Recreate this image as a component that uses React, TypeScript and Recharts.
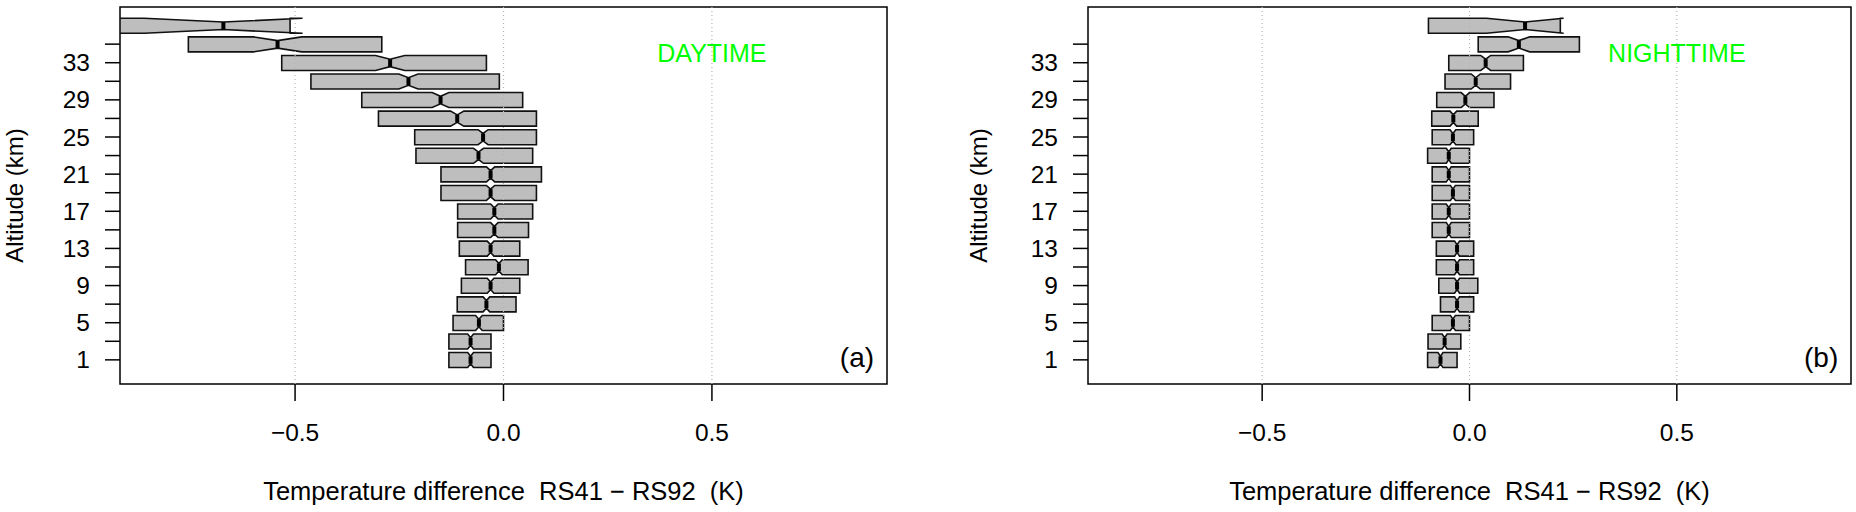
import { ComposedChart, Bar, XAxis, YAxis, ReferenceLine, ReferenceArea, ReferenceDot } from "recharts"

// altitude levels (km), bottom to top
const altitudes = [1, 3, 5, 7, 9, 11, 13, 15, 17, 19, 21, 23, 25, 27, 29, 31, 33, 35, 37]
const yTicks = [1, 3, 5, 7, 9, 11, 13, 15, 17, 19, 21, 23, 25, 27, 29, 31, 33, 35]
const yLabels = [1, 5, 9, 13, 17, 21, 25, 29, 33]
const xTicks = [-0.5, 0, 0.5]

// daytime RS41 - RS92 (K)
const dayQ1 = [-0.131, -0.131, -0.121, -0.111, -0.101, -0.091, -0.106, -0.11, -0.11, -0.15, -0.15, -0.21, -0.213, -0.3, -0.34, -0.462, -0.532, -0.756, -0.92]
const dayMedian = [-0.079, -0.079, -0.059, -0.041, -0.031, -0.011, -0.031, -0.022, -0.022, -0.031, -0.031, -0.06, -0.049, -0.111, -0.151, -0.228, -0.272, -0.542, -0.672]
const dayQ3 = [-0.03, -0.03, 0.0, 0.03, 0.039, 0.059, 0.039, 0.06, 0.07, 0.079, 0.091, 0.07, 0.079, 0.079, 0.046, -0.01, -0.041, -0.292, -0.512]
const dayNotch = [0.007, 0.007, 0.008, 0.008, 0.008, 0.008, 0.008, 0.009, 0.009, 0.01, 0.01, 0.012, 0.012, 0.016, 0.02, 0.023, 0.035, 0.058, 0.19]

// nighttime RS41 - RS92 (K)
const nightQ1 = [-0.101, -0.1, -0.09, -0.07, -0.074, -0.08, -0.08, -0.09, -0.09, -0.09, -0.09, -0.101, -0.09, -0.091, -0.079, -0.059, -0.05, 0.021, -0.099]
const nightMedian = [-0.07, -0.06, -0.04, -0.03, -0.03, -0.03, -0.03, -0.05, -0.05, -0.04, -0.05, -0.05, -0.04, -0.039, -0.01, 0.015, 0.039, 0.119, 0.134]
const nightQ3 = [-0.03, -0.021, 0.0, 0.01, 0.02, 0.01, 0.01, 0.0, 0.0, 0.0, 0.0, 0.0, 0.01, 0.021, 0.059, 0.099, 0.13, 0.265, 0.219]
const nightNotch = [0.006, 0.006, 0.006, 0.006, 0.006, 0.006, 0.006, 0.006, 0.006, 0.006, 0.006, 0.006, 0.007, 0.008, 0.01, 0.011, 0.012, 0.026, 0.093]

const X_DOMAIN: [number, number] = [-0.92, 0.92]
const Y_DOMAIN: [number, number] = [-1.6, 39]
const FONT = "'Liberation Sans', Arial, sans-serif"

const build = (q1: number[], med: number[], q3: number[], notch: number[]) =>
  altitudes.map((alt, i) => ({ alt, q1: q1[i], med: med[i], q3: q3[i], notch: notch[i] }))

const dayData = build(dayQ1, dayMedian, dayQ3, dayNotch)
const nightData = build(nightQ1, nightMedian, nightQ3, nightNotch)

// notched box like R's bxp, drawn inside the bar rect that recharts gives us
function NotchBox(props: any) {
  const { x, y, width, height, payload } = props
  const { q1, med, q3, notch } = payload
  const k = width / (q3 - q1)
  const px = (v: number) => x + (v - q1) * k
  const cy = y + height / 2
  const h = Math.abs(height) / 2
  const a = px(q1)
  const b = px(q3)
  const m = px(med)
  const lo = px(med - notch)
  const hi = px(med + notch)
  const pts = [
    [a, cy - h], [a, cy + h], [lo, cy + h], [m, cy + h / 2], [hi, cy + h],
    [b, cy + h], [b, cy - h], [hi, cy - h], [m, cy - h / 2], [lo, cy - h],
  ]
  return (
    <g>
      <polygon points={pts.map((p) => p.join(",")).join(" ")} fill="#BEBEBE" stroke="#111" strokeWidth={1.6} />
      <line x1={m} x2={m} y1={cy - h / 2} y2={cy + h / 2} stroke="#000" strokeWidth={4} />
    </g>
  )
}

function YTick(props: any) {
  const { x, y, payload } = props
  if (!yLabels.includes(payload.value)) return <g />
  return (
    <text x={x} y={y} textAnchor="end" dominantBaseline="central" fontSize={24.5} fill="#000" fontFamily={FONT}>
      {payload.value}
    </text>
  )
}

function XTick(props: any) {
  const { x, y, payload } = props
  const v = payload.value
  const s = v === 0 ? "0.0" : (v < 0 ? "\u2212" : "") + Math.abs(v).toFixed(1)
  return (
    <text x={x} y={y} textAnchor="middle" fontSize={24.5} fill="#000" fontFamily={FONT}>
      {s}
    </text>
  )
}

function Panel({ data, title, tag, axisWidth, rightMargin, labelX }: any) {
  return (
    <ComposedChart
      width={928}
      height={512}
      layout="vertical"
      data={data}
      margin={{ top: 7, right: rightMargin, bottom: 0, left: 0 }}
    >
      <XAxis
        type="number"
        domain={X_DOMAIN}
        allowDataOverflow
        ticks={xTicks}
        axisLine={false}
        tickSize={17}
        tickMargin={40}
        tickLine={{ stroke: "#000", strokeWidth: 1.5 }}
        tick={<XTick />}
        height={128}
        label={{
          content: ({ viewBox }: any) => (
            <text
              x={viewBox.x + viewBox.width / 2}
              y={viewBox.y + 116}
              textAnchor="middle"
              fontSize={25.5}
              fill="#000"
              fontFamily={FONT}
              style={{ whiteSpace: "pre" }}
            >
              {"Temperature difference  RS41 \u2212 RS92  (K)"}
            </text>
          ),
        }}
      />
      <YAxis
        type="number"
        dataKey="alt"
        domain={Y_DOMAIN}
        allowDataOverflow
        reversed
        ticks={yTicks}
        interval={0}
        axisLine={false}
        tickSize={15}
        tickMargin={15}
        tickLine={{ stroke: "#000", strokeWidth: 1.5 }}
        tick={<YTick />}
        width={axisWidth}
        label={{
          content: ({ viewBox }: any) => {
            const cy = viewBox.y + viewBox.height / 2
            return (
              <text
                x={labelX}
                y={cy}
                transform={`rotate(-90 ${labelX} ${cy})`}
                textAnchor="middle"
                dominantBaseline="central"
                fontSize={24}
                fill="#000"
                fontFamily={FONT}
              >
                Altitude (km)
              </text>
            )
          },
        }}
      />
      <Bar dataKey={(d: any) => [d.q1, d.q3]} barSize={15} shape={<NotchBox />} isAnimationActive={false} />
      {xTicks.map((t) => (
        <ReferenceLine key={t} x={t} stroke="#B4B4B4" strokeDasharray="1 3" strokeWidth={1.2} />
      ))}
      <ReferenceArea
        x1={X_DOMAIN[0]}
        x2={X_DOMAIN[1]}
        y1={Y_DOMAIN[0]}
        y2={Y_DOMAIN[1]}
        fill="none"
        fillOpacity={0}
        stroke="#000"
        strokeWidth={1.5}
      />
      <ReferenceDot
        x={0.5}
        y={34}
        r={0}
        fill="none"
        stroke="none"
        label={{ value: title, position: "center", fill: "#00FF00", fontSize: 25, fontFamily: FONT }}
      />
      <ReferenceDot
        x={0.848}
        y={1.3}
        r={0}
        fill="none"
        stroke="none"
        label={{ value: tag, position: "center", fill: "#000", fontSize: 28, fontFamily: FONT }}
      />
    </ComposedChart>
  )
}

export default function App() {
  return (
    <div
      style={{
        position: "absolute",
        left: 0,
        top: 0,
        width: 1856,
        height: 512,
        background: "#fff",
        display: "flex",
        fontFamily: FONT,
      }}
    >
      <Panel data={dayData} title="DAYTIME" tag="(a)" axisWidth={120} rightMargin={41} labelX={14} />
      <Panel data={nightData} title="NIGHTTIME" tag="(b)" axisWidth={160} rightMargin={5} labelX={50} />
    </div>
  )
}
